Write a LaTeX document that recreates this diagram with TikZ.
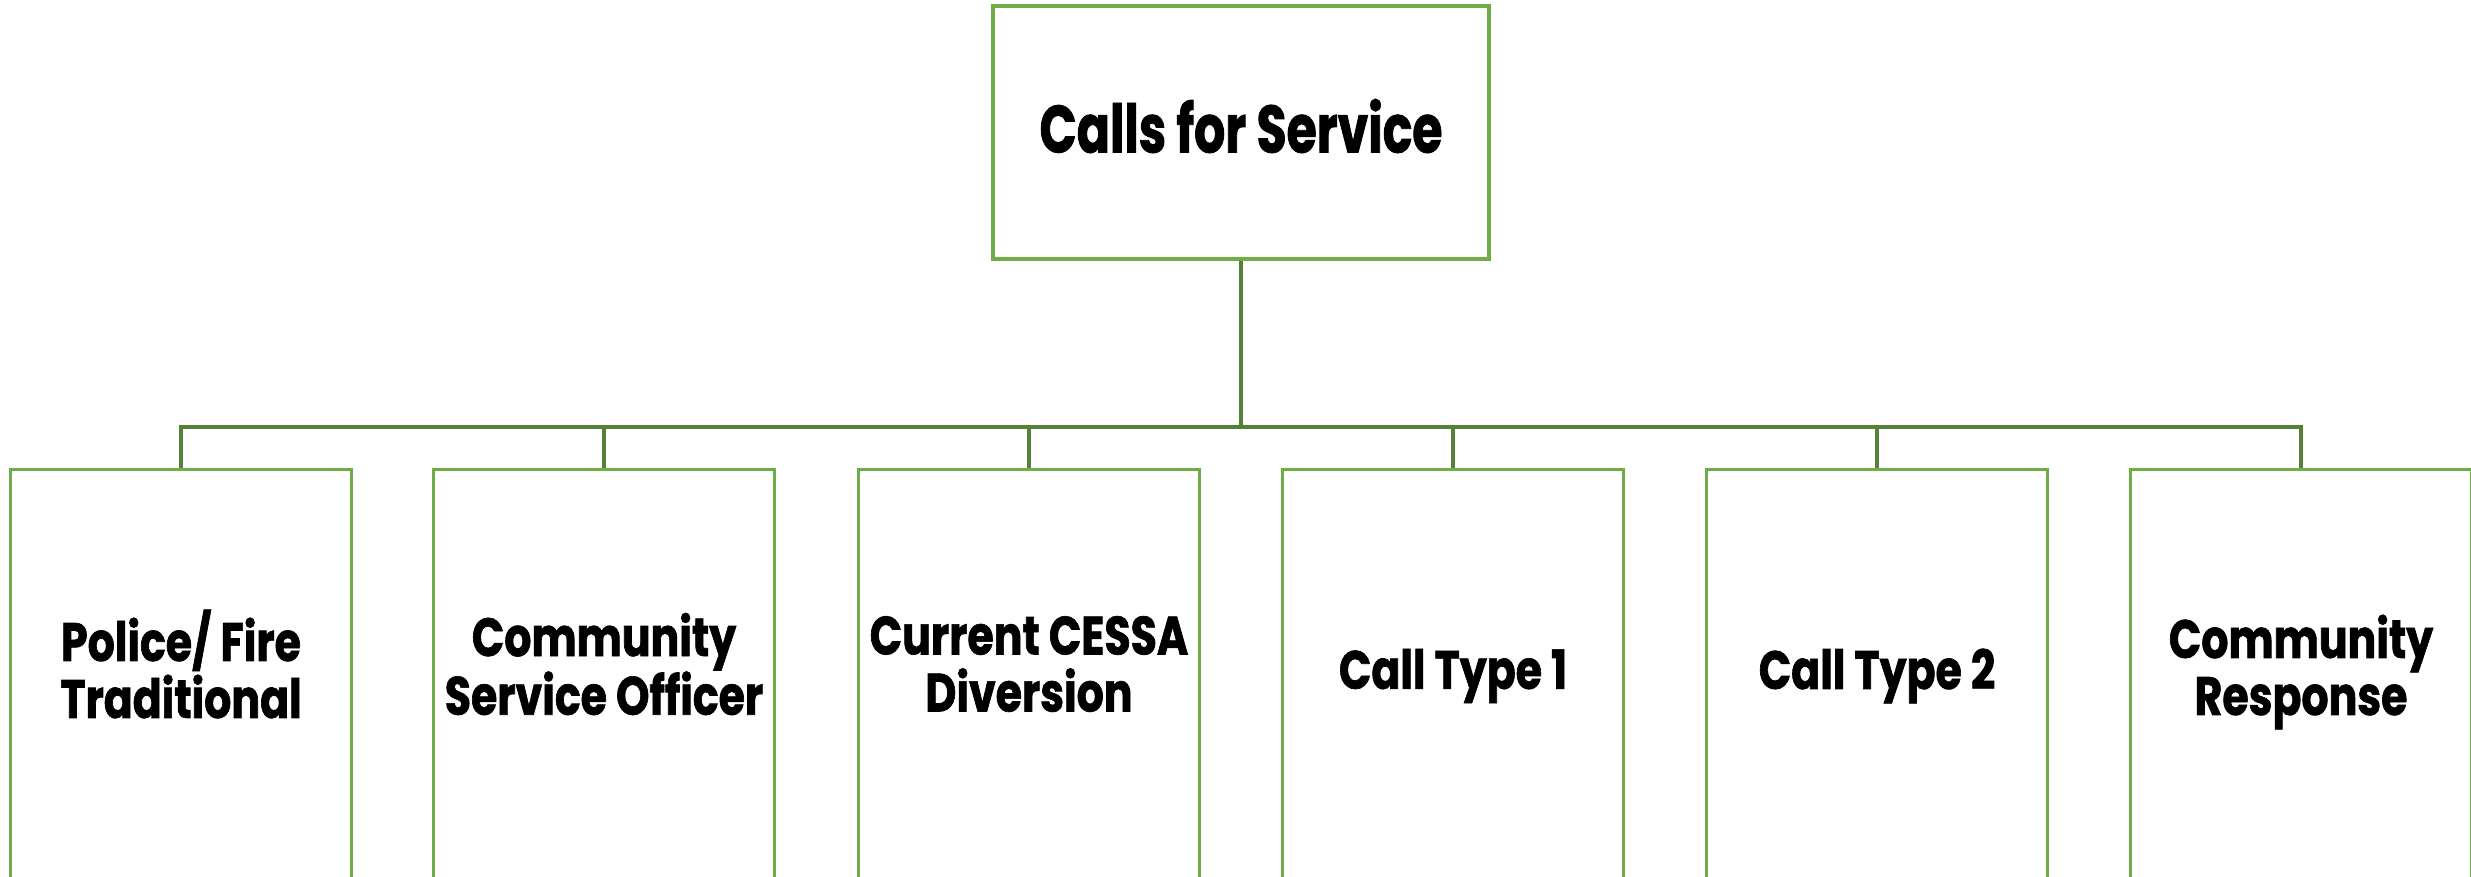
\documentclass[tikz,border=0pt]{standalone}
\usepackage{fontspec}
\newfontfamily\rootfont[FakeStretch=0.73,FakeBold=1.2]{Poppins}
\newfontfamily\branchfont[FakeStretch=0.79,FakeBold=1.2]{Poppins}
\definecolor{boxgreen}{HTML}{70AD47}
\definecolor{linkgreen}{HTML}{548235}
\begin{document}
\begin{tikzpicture}[x=1pt,y=-1pt,
  topbox/.style={draw=boxgreen, line width=3.2pt, minimum width=496pt,
    minimum height=253pt, inner sep=0pt},
  toplabel/.style={font=\rootfont\bfseries\fontsize{67}{70}\selectfont,
    inner sep=0pt},
  subbox/.style={draw=boxgreen, line width=3.2pt, minimum width=341pt,
    minimum height=420pt, inner sep=0pt, anchor=north},
  sublabel/.style={font=\branchfont\bfseries\fontsize{54}{57}\selectfont,
    align=center, inner sep=0pt},
  link/.style={draw=linkgreen, line width=3.6pt}]
  \useasboundingbox (0,0) rectangle (2471,876);
  \clip (0,0) rectangle (2471,876);
  \fill[white] (0,0) rectangle (2471,876);

  % root
  \node[topbox] (cfs) at (1241,132.5) {};
  \node[toplabel] (cfst) at (1241,126) {Calls for Service};

  % response branches
  \node[subbox] (c1) at (181,468) {};
  \node[subbox] (c2) at (604,468) {};
  \node[subbox] (c3) at (1029,468) {};
  \node[subbox] (c4) at (1453,468) {};
  \node[subbox] (c5) at (1877,468) {};
  \node[subbox] (c6) at (2301,468) {};

  \node[sublabel] (t1) at (181,664) {Police/ Fire\\Traditional};
  \node[sublabel] (t2) at (604,664) {Community\\Service Officer};
  \node[sublabel] (t3) at (1029,664) {Current CESSA\\Diversion};
  \node[sublabel] (t4) at (1453,676) {Call Type 1};
  \node[sublabel] (t5) at (1877,676) {Call Type 2};
  \node[sublabel] (t6) at (2301,672) {Community\\Response};

  % connectors
  \coordinate (bar) at (1241,427);
  \draw[link] (cfs.south) -- (bar);
  \draw[link] (c1.north) -- (c1.north |- bar) -- (c6.north |- bar) -- (c6.north);
  \foreach \c in {c2,c3,c4,c5}
    \draw[link] (\c.north) -- (\c.north |- bar);
\end{tikzpicture}
\end{document}
